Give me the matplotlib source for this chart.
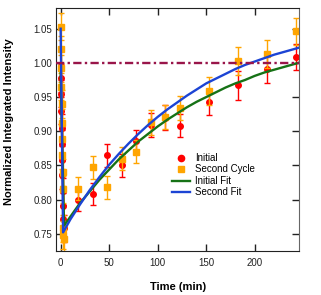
import matplotlib
matplotlib.use("Agg")
import matplotlib.pyplot as plt
from matplotlib.lines import Line2D

# ---- data ----
initial_t = [0.0, 0.3, 0.6, 0.9, 1.2, 1.5, 1.8, 2.1, 2.4, 2.7, 3.0,
             18, 33, 48, 63, 78, 93, 108, 123, 153, 183, 213, 243]
initial_v = [0.978, 0.955, 0.930, 0.905, 0.882, 0.858, 0.836, 0.812, 0.790, 0.772, 0.758,
             0.800, 0.808, 0.865, 0.850, 0.885, 0.909, 0.920, 0.908, 0.943, 0.967, 0.991, 1.008]
initial_err = [0.02, 0.02, 0.02, 0.02, 0.02, 0.02, 0.02, 0.02, 0.02, 0.02, 0.02,
               0.016, 0.016, 0.017, 0.017, 0.017, 0.018, 0.018, 0.017, 0.019, 0.021, 0.020, 0.019]

second_t = [0.0, 0.25, 0.5, 0.75, 1.0, 1.25, 1.5, 1.75, 2.0, 2.25, 2.5, 2.75, 3.0,
            18, 33, 48, 63, 78, 93, 108, 123, 153, 183, 213, 243]
second_v = [1.053, 1.020, 0.992, 0.965, 0.940, 0.912, 0.888, 0.865, 0.840, 0.815, 0.758, 0.748, 0.743,
            0.816, 0.847, 0.818, 0.860, 0.870, 0.913, 0.921, 0.934, 0.959, 1.003, 1.013, 1.046]
second_err = [0.02, 0.02, 0.02, 0.02, 0.02, 0.02, 0.02, 0.02, 0.02, 0.02, 0.02, 0.02, 0.02,
              0.017, 0.017, 0.017, 0.017, 0.017, 0.018, 0.018, 0.018, 0.020, 0.020, 0.021, 0.020]

initial_fit_t = [0, 3.5, 10, 20, 30, 40, 50, 60, 70, 80, 90, 100, 110, 120, 130, 140,
                 150, 160, 170, 180, 190, 200, 210, 220, 230, 240, 245]
initial_fit_v = [0.985, 0.762, 0.775, 0.795, 0.812, 0.829, 0.844, 0.859, 0.872, 0.885, 0.896,
                 0.907, 0.917, 0.926, 0.935, 0.943, 0.950, 0.957, 0.964, 0.970, 0.975,
                 0.981, 0.986, 0.990, 0.994, 0.998, 1.000]

second_fit_t = [0, 2.5, 10, 20, 30, 40, 50, 60, 70, 80, 90, 100, 110, 120, 130, 140,
                150, 160, 170, 180, 190, 200, 210, 220, 230, 240, 245]
second_fit_v = [1.050, 0.752, 0.771, 0.793, 0.814, 0.833, 0.851, 0.867, 0.882, 0.896, 0.909,
                0.921, 0.932, 0.942, 0.952, 0.961, 0.970, 0.977, 0.984, 0.991, 0.997,
                1.002, 1.007, 1.012, 1.016, 1.020, 1.022]

reference_level = 1.0
x_ticks = [0, 50, 100, 150, 200]
y_ticks = [0.75, 0.80, 0.85, 0.90, 0.95, 1.00, 1.05]
legend_labels = ['Initial', 'Second Cycle', 'Initial Fit', 'Second Fit']

# ---- figure ----
plt.rcParams['font.family'] = ['Liberation Sans', 'DejaVu Sans']
fig = plt.figure(figsize=(3.21, 2.95), dpi=100)
ax = fig.add_axes([56/321, 1-251/295, (299-56)/321, (251-8)/295])

red = '#ff0000'
orange = '#ffa500'
green = '#167216'
blue = '#1c44d4'

ax.errorbar(initial_t, initial_v, yerr=initial_err, fmt='o', color=red, ms=4,
            ecolor=red, elinewidth=1, capsize=2.2, capthick=1, zorder=2)
ax.errorbar(second_t, second_v, yerr=second_err, fmt='s', color=orange, ms=4,
            ecolor=orange, elinewidth=1, capsize=2.2, capthick=1, zorder=2.1)
ax.plot(initial_fit_t, initial_fit_v, color=green, lw=1.7, zorder=3)
ax.plot(second_fit_t, second_fit_v, color=blue, lw=1.7, zorder=3.1)
ax.axhline(reference_level, color='#99154a', lw=1.7,
           linestyle=(0, (3.5, 1.4, 1.0, 1.4)), zorder=4)

ax.set_xlim(-4.8, 245.6)
ax.set_ylim(0.7248, 1.0803)
ax.set_xticks(x_ticks)
ax.set_yticks(y_ticks)
ax.set_yticklabels([f"{v:.2f}" for v in y_ticks])
ax.tick_params(direction='in', length=5, width=1, labelsize=7, top=True, right=True,
               colors='#222222')
ax.tick_params(axis='x', pad=5)
ax.tick_params(axis='y', pad=2.5)
for s in ['left', 'bottom', 'top']:
    ax.spines[s].set_color('#222222')
ax.spines['right'].set_color('#666666')

fig.text(178/321, 1-287/295, 'Time (min)', ha='center', va='center',
         fontsize=8, fontweight='bold')
fig.text(9/321, 1-122/295, 'Normalized Integrated Intensity', ha='center', va='center',
         rotation=90, fontsize=8, fontweight='bold')

handles = [
    Line2D([], [], linestyle='none', marker='o', color=red, ms=4.5),
    Line2D([], [], linestyle='none', marker='s', color=orange, ms=4.5),
    Line2D([], [], color=green, lw=1.7),
    Line2D([], [], color=blue, lw=1.7),
]
fig.legend(handles, legend_labels, loc='upper left',
           bbox_to_anchor=(172/321, 1-153/295), frameon=False, fontsize=7,
           borderpad=0, borderaxespad=0, handlelength=1.9, handletextpad=0.5,
           labelspacing=0.15, numpoints=1)

fig.savefig('out.png', dpi=100)
